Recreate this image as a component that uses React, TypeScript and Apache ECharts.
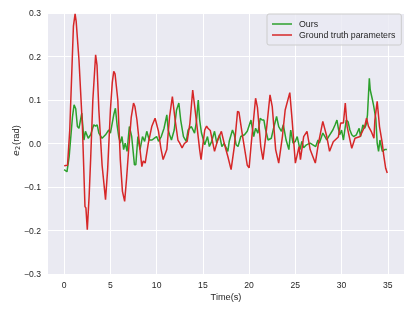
import React, { useEffect, useRef } from "react";
import * as echarts from "echarts";

const xTicks = [0, 5, 10, 15, 20, 25, 30, 35];
const yTicks = [-0.3, -0.2, -0.1, 0.0, 0.1, 0.2, 0.3];

const oursT = [
  0, 0.3, 0.54, 0.9, 1.07, 1.25, 1.43, 1.6, 1.9, 2.14, 2.3, 2.6, 2.86, 3.2, 3.4, 3.57, 3.75, 4.1, 4.47, 4.82,
  5.0, 5.36, 5.54, 5.72, 5.9, 6.07, 6.25, 6.43, 6.6, 6.8, 7.05, 7.3, 7.6, 7.75, 7.97, 8.2, 8.47, 8.7, 8.93, 9.2,
  9.5, 9.8, 10.0, 10.2, 10.5, 10.8, 11.1, 11.25, 11.4, 11.6, 11.9, 12.15, 12.4, 12.6, 12.9, 13.2, 13.4, 13.75, 14.1, 14.3,
  14.5, 14.65, 14.85, 15.2, 15.5, 15.7, 15.95, 16.26, 16.5, 16.8, 17.05, 17.3, 17.7, 17.85, 18.2, 18.4, 18.6, 18.8, 19.1, 19.5,
  19.8, 20.2, 20.35, 20.5, 20.7, 20.95, 21.2, 21.4, 21.6, 21.75, 22.05, 22.4, 22.6, 22.97, 23.2, 23.5, 23.7, 24.0, 24.3, 24.5,
  24.75, 25.0, 25.2, 25.5, 25.7, 25.9, 26.2, 26.6, 27.2, 27.45, 27.6, 27.97, 28.2, 28.4, 28.6, 29.05, 29.3, 29.5, 29.65, 29.8,
  30.0, 30.2, 30.5, 30.7, 30.9, 31.1, 31.3, 31.6, 31.9, 32.05, 32.3, 32.5, 32.65, 32.8, 33.0, 33.1, 33.3, 33.45, 33.7, 33.85,
  34.0, 34.15, 34.4, 34.66, 34.9,
];
const oursV = [
  -0.06, -0.065, -0.03, 0.062, 0.089, 0.08, 0.039, 0.035, 0.07, 0.008, 0.028, 0.012, 0.02, 0.043, 0.04, 0.043, 0.024, 0.012, 0.02, 0.031,
  0.024, 0.066, 0.081, 0.043, 0.016, 0.001, 0.016, -0.014, 0.001, -0.018, 0.039, 0.016, -0.049, -0.049, 0.016, -0.014, 0.016, 0.005, 0.028, 0.008,
  0.008, 0.013, 0.016, 0.005, 0.016, 0.035, 0.066, 0.031, 0.02, 0.008, 0.031, 0.077, 0.093, 0.054, 0.016, 0.005, 0.031, 0.039, 0.024, 0.05,
  0.1, 0.054, 0.024, -0.003, 0.016, -0.007, 0.005, 0.028, 0.001, 0.02, -0.007, 0.0, -0.018, 0.005, 0.031, 0.02, -0.003, -0.007, 0.016, 0.02,
  0.028, 0.054, 0.035, 0.016, 0.035, 0.024, 0.058, 0.054, 0.054, 0.035, 0.008, 0.012, 0.031, 0.062, 0.039, 0.028, 0.043, 0.008, -0.014, 0.031,
  0.001, 0.005, 0.016, -0.014, 0.005, -0.01, -0.003, 0.001, -0.007, 0.008, 0.001, 0.024, 0.016, 0.008, 0.016, 0.031, 0.043, 0.054, 0.035, 0.02,
  0.031, 0.008, 0.054, 0.05, 0.031, 0.02, 0.016, 0.02, 0.035, 0.016, 0.043, 0.035, 0.043, 0.066, 0.15, 0.123, 0.104, 0.089, 0.058, 0.001,
  -0.018, 0.008, -0.018, -0.014, -0.014,
];

const gtT = [
  0, 0.36, 0.6, 0.85, 1.0, 1.18, 1.3, 1.6, 1.97, 2.25, 2.35, 2.5, 2.7, 2.86, 3.1, 3.4, 3.55, 3.75, 4.1, 4.47,
  4.7, 5.0, 5.2, 5.36, 5.5, 5.72, 5.8, 6.07, 6.3, 6.54, 6.75, 6.97, 7.25, 7.5, 7.65, 7.87, 8.2, 8.4, 8.55, 8.76,
  9.1, 9.47, 9.83, 10.2, 10.45, 10.7, 11.1, 11.4, 11.7, 12.0, 12.3, 12.5, 12.75, 13.0, 13.3, 13.6, 13.9, 14.2, 14.65, 14.8,
  15.2, 15.4, 15.55, 15.8, 16.26, 16.6, 17.0, 17.3, 17.7, 18.05, 18.4, 18.75, 18.9, 19.3, 19.8, 20.0, 20.2, 20.7, 20.9, 21.26,
  21.5, 21.8, 22.26, 22.5, 22.87, 23.2, 23.6, 23.9, 24.4, 24.65, 25.0, 25.4, 25.55, 25.9, 26.26, 26.6, 27.16, 27.5, 27.97, 28.4,
  28.7, 29.1, 29.65, 29.9, 30.2, 30.4, 30.6, 31.1, 31.45, 32.0, 32.5, 32.7, 32.9, 33.2, 33.5, 33.6, 33.85, 34.1, 34.4, 34.55,
  34.77, 34.94,
];
const gtV = [
  -0.051, -0.05, 0.03, 0.18, 0.27, 0.298, 0.28, 0.192, 0.04, -0.145, -0.148, -0.198, -0.12, -0.037, 0.1, 0.204, 0.18, 0.077, -0.05, -0.129,
  -0.06, 0.077, 0.14, 0.166, 0.16, 0.116, 0.1, -0.037, -0.11, -0.133, -0.08, -0.015, 0.06, 0.093, 0.085, 0.054, -0.014, -0.053, -0.04, -0.045,
  0.001, 0.039, 0.058, 0.028, -0.01, -0.037, -0.014, 0.062, 0.108, 0.054, 0.008, 0.001, -0.01, 0.0, 0.005, 0.047, 0.123, 0.07, -0.014, -0.037,
  0.031, 0.04, 0.035, 0.03, -0.018, 0.008, 0.028, 0.001, -0.03, -0.06, -0.007, 0.074, 0.072, 0.016, -0.05, -0.056, -0.007, 0.104, 0.083, -0.007,
  -0.037, 0.016, 0.112, 0.085, -0.014, -0.045, 0.016, 0.077, 0.117, 0.054, -0.045, -0.007, -0.037, 0.016, 0.028, -0.014, -0.045, 0.001, 0.051, 0.016,
  -0.018, 0.004, 0.015, 0.047, 0.047, 0.093, 0.039, -0.011, 0.012, 0.016, 0.039, 0.058, 0.04, 0.028, 0.012, 0.054, 0.097, 0.039, 0.001, -0.026,
  -0.057, -0.068,
];

const zip = (t: number[], v: number[]) => t.map((x, i) => [x, v[i]]);

const FONT = "Liberation Sans, Arial, sans-serif";
const TXT = "#262626";

export default function App() {
  const ref = useRef<HTMLDivElement>(null);
  useEffect(() => {
    if (!ref.current) return;
    const chart = echarts.init(ref.current, undefined, { renderer: "svg" });
    chart.setOption({
      animation: false,
      textStyle: { fontFamily: FONT },
      grid: {
        left: 48,
        right: 11,
        top: 13,
        bottom: 37,
        containLabel: false,
        outerBoundsMode: "none",
        show: true,
        backgroundColor: "#EAEAF2",
        borderWidth: 0,
      },
      legend: {
        orient: "vertical",
        left: 267,
        top: 14,
        padding: [5, 6, 5, 5],
        itemGap: 1,
        itemWidth: 20,
        itemHeight: 1.5,
        icon: "rect",
        backgroundColor: "rgba(234,234,242,0.8)",
        borderColor: "#cccccc",
        borderWidth: 1,
        borderRadius: 2,
        textStyle: { fontFamily: FONT, fontSize: 8.8, color: TXT, lineHeight: 10, padding: [0, 0, 0, 2] },
        data: ["Ours", "Ground truth parameters"],
      },
      xAxis: {
        type: "value",
        min: -1.75,
        max: 36.75,
        name: "Time(s)",
        nameLocation: "middle",
        nameGap: 18,
        nameMoveOverlap: false,
        nameTextStyle: { fontFamily: FONT, fontSize: 9.2, color: TXT },
        axisLine: { show: false },
        axisTick: { show: false, customValues: xTicks },
        axisLabel: { customValues: xTicks, margin: 6, fontFamily: FONT, fontSize: 8.6, color: TXT },
        splitLine: { show: true, lineStyle: { color: "#ffffff", width: 1 } },
      },
      yAxis: {
        type: "value",
        min: -0.3,
        max: 0.3,
        name: "{i|e}{s|2}(rad)",
        nameLocation: "middle",
        nameGap: 27,
        nameMoveOverlap: false,
        nameRotate: 90,
        nameTextStyle: {
          fontFamily: FONT,
          fontSize: 9.4,
          color: TXT,
          padding: [0, 0, 0, 6],
          rich: {
            i: { fontStyle: "italic", fontFamily: "DejaVu Sans, sans-serif", fontSize: 9.4, color: TXT },
            s: { fontFamily: "DejaVu Sans, sans-serif", fontSize: 6.6, color: TXT, padding: [4, 1, 0, 0] },
          },
        },
        axisLine: { show: false },
        axisTick: { show: false, customValues: yTicks },
        axisLabel: {
          customValues: yTicks,
          margin: 7,
          fontFamily: FONT,
          fontSize: 8.6,
          color: TXT,
          formatter: (v: number) => v.toFixed(1).replace("-", "\u2212"),
        },
        splitLine: { show: true, lineStyle: { color: "#ffffff", width: 1 } },
      },
      series: [
        {
          name: "Ours",
          type: "line",
          data: zip(oursT, oursV),
          showSymbol: false,
          symbol: "none",
          lineStyle: { color: "#2ca02c", width: 1.5 },
          itemStyle: { color: "#2ca02c" },
        },
        {
          name: "Ground truth parameters",
          type: "line",
          data: zip(gtT, gtV),
          showSymbol: false,
          symbol: "none",
          lineStyle: { color: "#d62728", width: 1.5 },
          itemStyle: { color: "#d62728" },
        },
      ],
    });
    return () => chart.dispose();
  }, []);
  return (
    <div
      ref={ref}
      style={{ position: "fixed", left: 0, top: 0, width: 415, height: 311 }}
    />
  );
}
